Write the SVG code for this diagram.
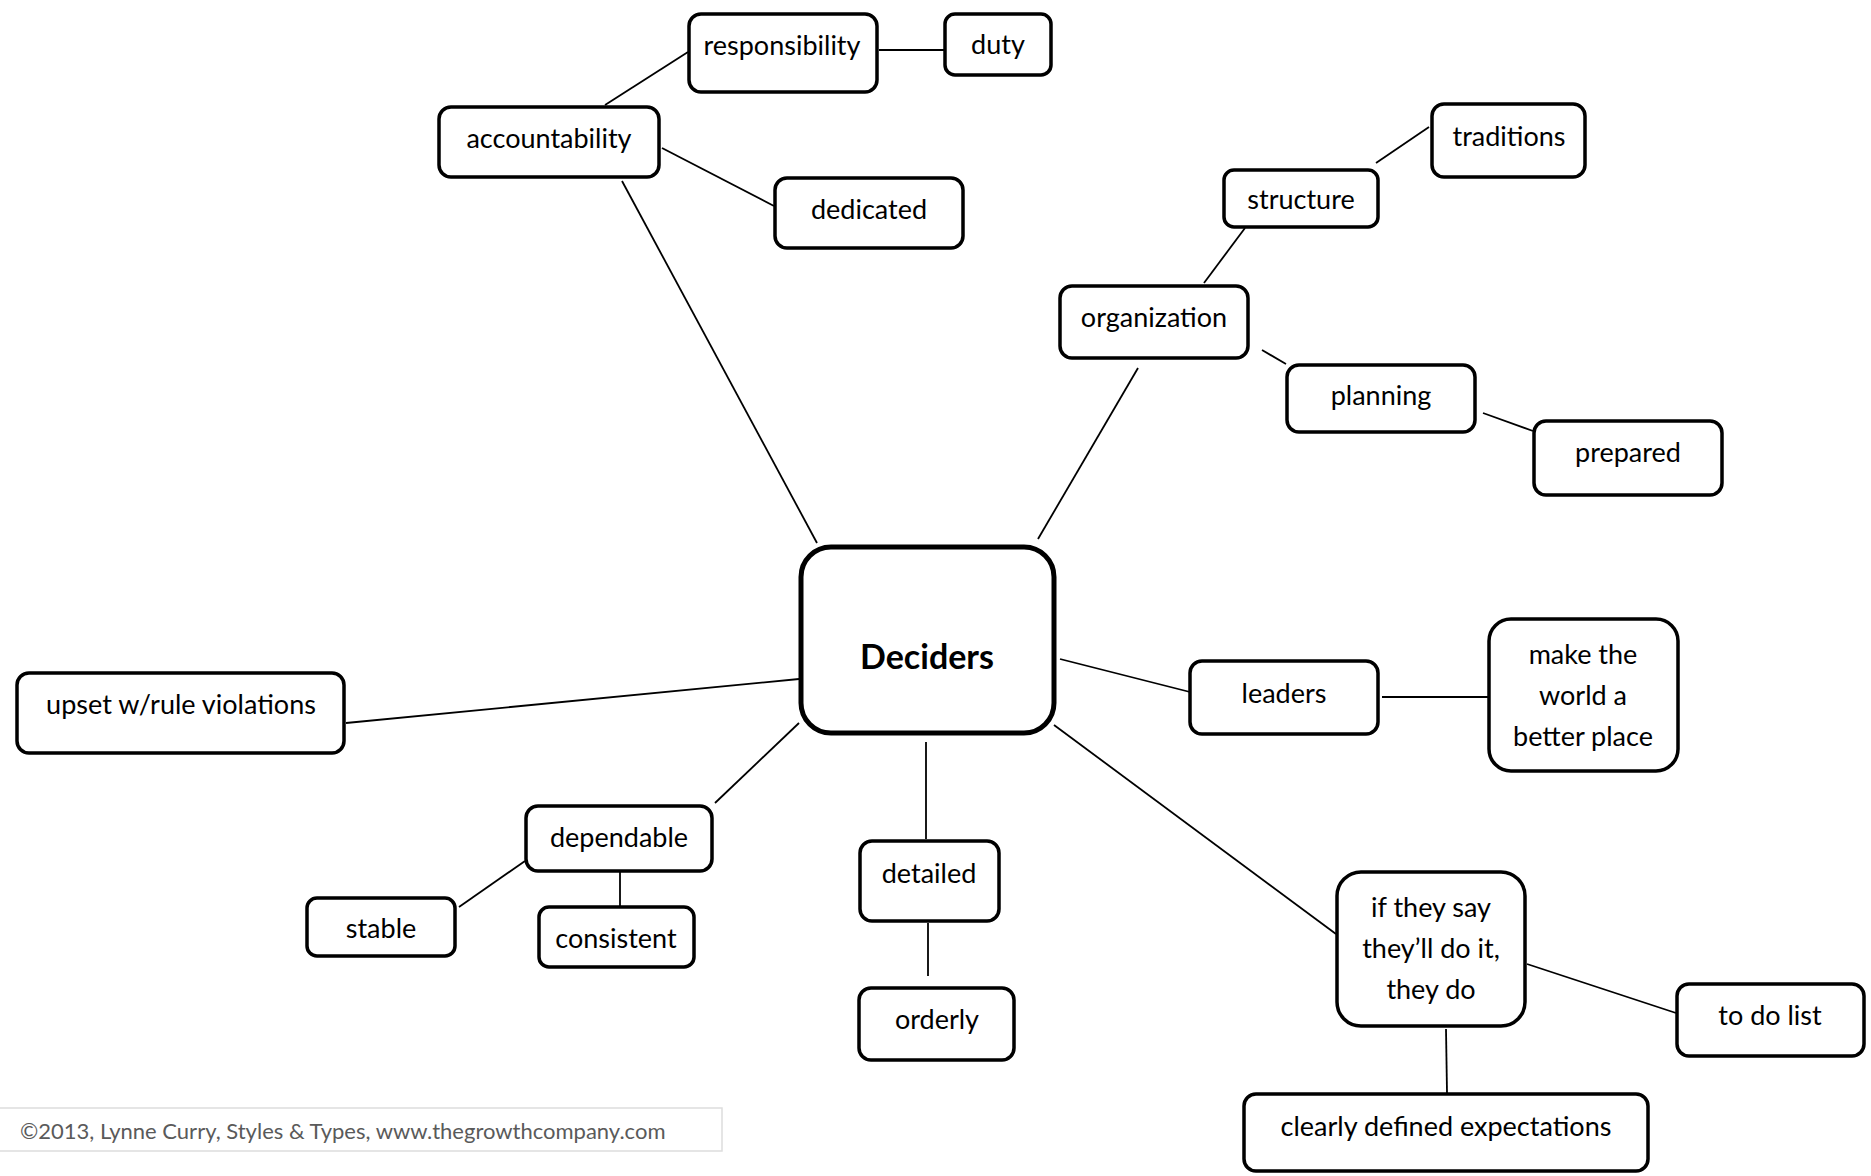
<svg xmlns="http://www.w3.org/2000/svg" width="1871" height="1176" viewBox="0 0 1871 1176">
<style>
.n{fill:#fff;stroke:#000;stroke-width:3.5}
.c{fill:#fff;stroke:#000;stroke-width:5}
.t{font-family:Lato,"Open Sans",sans-serif;font-size:27px;fill:#000;text-anchor:middle}
.b{font-family:Lato,"Open Sans",sans-serif;font-size:34px;font-weight:bold;fill:#000;text-anchor:middle}
.e line{stroke:#000;stroke-width:1.8}
.f{font-family:Lato,"Open Sans",sans-serif;font-size:22px;fill:#5a5a5a}
</style>
<rect width="1871" height="1176" fill="#fff"/>
<g id="footer">
<rect x="-5" y="1108" width="727" height="43" fill="#fff" stroke="#ddd" stroke-width="1.5"/>
<text class="f" x="20" y="1139">©2013, Lynne Curry, Styles &amp; Types, www.thegrowthcompany.com</text>
</g>
<g class="e" id="connectors">
<line x1="605" y1="105" x2="688" y2="52"/>
<line x1="879" y1="50" x2="944" y2="50"/>
<line x1="662" y1="148" x2="774" y2="206"/>
<line x1="622" y1="181" x2="817" y2="543"/>
<line x1="1245" y1="228" x2="1204" y2="283"/>
<line x1="1376" y1="163" x2="1429" y2="127"/>
<line x1="1262" y1="350" x2="1286" y2="364"/>
<line x1="1483" y1="413" x2="1533" y2="431"/>
<line x1="1138" y1="368" x2="1038" y2="539"/>
<line x1="799" y1="679" x2="346" y2="723"/>
<line x1="1060" y1="659" x2="1190" y2="692"/>
<line x1="1382" y1="697" x2="1489" y2="697"/>
<line x1="799" y1="723" x2="715" y2="803"/>
<line x1="525" y1="861" x2="459" y2="907"/>
<line x1="620" y1="872" x2="620" y2="906"/>
<line x1="926" y1="742" x2="926" y2="839"/>
<line x1="928" y1="923" x2="928" y2="976"/>
<line x1="1054" y1="725" x2="1336" y2="934"/>
<line x1="1527" y1="964" x2="1676" y2="1013"/>
<line x1="1446" y1="1029" x2="1447" y2="1093"/>
</g>
<g id="deciders"><rect class="c" x="801" y="547" width="253" height="186" rx="30"/><text class="b" x="927" y="669">Deciders</text></g>
<g id="responsibility"><rect class="n" x="689" y="14" width="188" height="78" rx="12"/><text class="t" x="782" y="55">responsibility</text></g>
<g id="duty"><rect class="n" x="945" y="14" width="106" height="61" rx="10"/><text class="t" x="998" y="54">duty</text></g>
<g id="accountability"><rect class="n" x="439" y="107" width="220" height="70" rx="12"/><text class="t" x="549" y="148">accountability</text></g>
<g id="dedicated"><rect class="n" x="775" y="178" width="188" height="70" rx="12"/><text class="t" x="869" y="219">dedicated</text></g>
<g id="traditions"><rect class="n" x="1432" y="104" width="153" height="73" rx="12"/><text class="t" x="1509" y="146">traditions</text></g>
<g id="structure"><rect class="n" x="1224" y="170" width="154" height="57" rx="10"/><text class="t" x="1301" y="209">structure</text></g>
<g id="organization"><rect class="n" x="1060" y="286" width="188" height="72" rx="12"/><text class="t" x="1154" y="327">organization</text></g>
<g id="planning"><rect class="n" x="1287" y="365" width="188" height="67" rx="12"/><text class="t" x="1381" y="405">planning</text></g>
<g id="prepared"><rect class="n" x="1534" y="421" width="188" height="74" rx="12"/><text class="t" x="1628" y="462">prepared</text></g>
<g id="upset"><rect class="n" x="17" y="673" width="327" height="80" rx="12"/><text class="t" x="181" y="714">upset w/rule violations</text></g>
<g id="leaders"><rect class="n" x="1190" y="661" width="188" height="73" rx="12"/><text class="t" x="1284" y="703">leaders</text></g>
<g id="make"><rect class="n" x="1489" y="619" width="189" height="152" rx="22"/><text class="t" x="1583" y="664">make the</text><text class="t" x="1583" y="705">world a</text><text class="t" x="1583" y="746">better place</text></g>
<g id="dependable"><rect class="n" x="526" y="806" width="186" height="65" rx="12"/><text class="t" x="619" y="847">dependable</text></g>
<g id="stable"><rect class="n" x="307" y="898" width="148" height="58" rx="10"/><text class="t" x="381" y="938">stable</text></g>
<g id="consistent"><rect class="n" x="539" y="907" width="155" height="60" rx="10"/><text class="t" x="616" y="948">consistent</text></g>
<g id="detailed"><rect class="n" x="860" y="841" width="139" height="80" rx="12"/><text class="t" x="929" y="883">detailed</text></g>
<g id="orderly"><rect class="n" x="859" y="988" width="155" height="72" rx="12"/><text class="t" x="937" y="1029">orderly</text></g>
<g id="ifthey"><rect class="n" x="1337" y="872" width="188" height="154" rx="24"/><text class="t" x="1431" y="917">if they say</text><text class="t" x="1431" y="958">they’ll do it,</text><text class="t" x="1431" y="999">they do</text></g>
<g id="todo"><rect class="n" x="1677" y="984" width="187" height="72" rx="12"/><text class="t" x="1770" y="1025">to do list</text></g>
<g id="clearly"><rect class="n" x="1244" y="1094" width="404" height="77" rx="12"/><text class="t" x="1446" y="1136">clearly defined expectations</text></g>
</svg>
